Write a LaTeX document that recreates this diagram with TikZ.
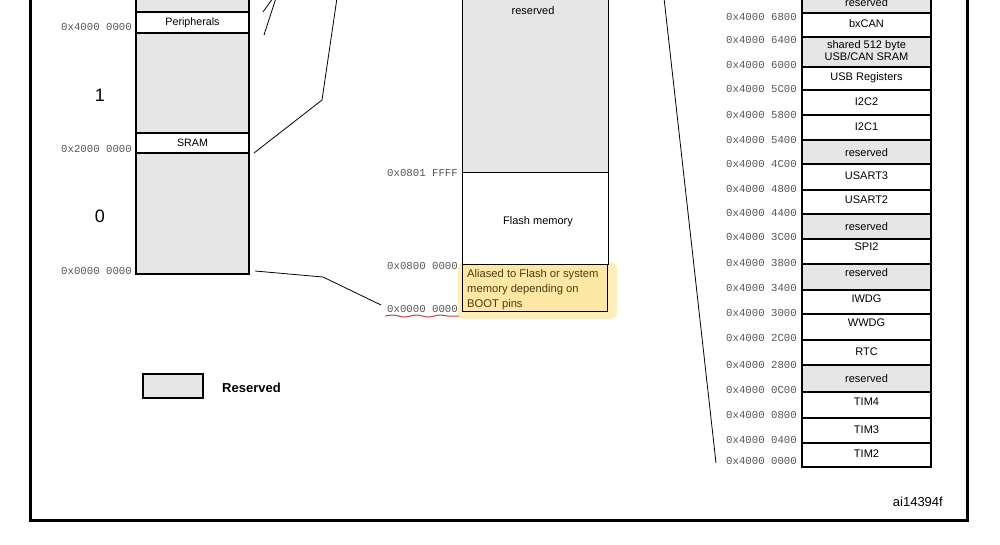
\documentclass[tikz,border=0pt]{standalone}
\usepackage{fontspec}
\setmainfont{Liberation Sans}
\setmonofont{Liberation Mono}
\usetikzlibrary{positioning, decorations.pathmorphing}
\usepackage{xcolor}
\definecolor{rsvgray}{HTML}{E6E6E6}
\definecolor{addrgray}{HTML}{555555}
\definecolor{hilite}{HTML}{FCE8A4}
\definecolor{hilitetext}{HTML}{4A3C14}
\definecolor{inkred}{HTML}{D43A3A}

\tikzset{
  memline/.style={line width=1.6pt},
  thinline/.style={line width=0.9pt},
  rsv/.style={fill=rsvgray},
  free/.style={fill=white},
  addr/.style={font=\ttfamily\fontsize{10.7}{12}\selectfont, text=addrgray, anchor=east, inner sep=0pt},
  blocklabel/.style={font=\fontsize{11}{12.6}\selectfont, align=center, inner sep=0pt},
  zoomline/.style={line width=0.8pt},
  wavy/.style={inkred, line width=1pt, decorate, decoration={snake, amplitude=1pt, segment length=24pt}},
}

\begin{document}
\begin{tikzpicture}[x=1pt, y=-1pt]
  \path[use as bounding box, clip] (0,0) rectangle (1000,544);

  % outer frame
  \draw[line width=3pt] (30,-10) -- (30,520) -- (967,520) -- (967,-10);

  % left column: whole address space
  \begin{scope}[memline]
    \draw[rsv] (136,-10) rectangle (249,12);
    \draw[free] (136,12) rectangle (249,33);
    \draw[rsv] (136,33) rectangle (249,133);
    \draw[free] (136,133) rectangle (249,153);
    \draw[rsv] (136,153) rectangle (249,274);
    \draw[line width=2.6pt] (135,274) -- (250,274);
  \end{scope}
  \node[blocklabel, font=\fontsize{10.7}{12}\selectfont] (periph) at (192.5,22.5) {Peripherals};
  \node[blocklabel, font=\fontsize{10.7}{12}\selectfont] (sram) at (192.5,143) {SRAM};
  \node[font=\fontsize{18}{20}\selectfont, inner sep=0pt] (blk1) at (100,95) {1};
  \node[font=\fontsize{18}{20}\selectfont, inner sep=0pt] (blk0) at (100,216) {0};
  \node[addr] (a4000) at (132,27) {0x4000 0000};
  \node[addr] (a2000) at (132,149) {0x2000 0000};
  \node[addr] (a0000) at (132,271) {0x0000 0000};

  % middle column: code area
  \fill[hilite!75, rounded corners=7pt] (458,262) rectangle (617,319);
  \fill[hilite] (462,264) rectangle (607,311);
  \draw[thinline, rsv] (462,-10) rectangle (608,172);
  \draw[thinline, free] (462,172) rectangle (608,264);
  \draw[thinline] (462,264) -- (462,311) -- (607,311) -- (607,264);
  \node[blocklabel] (rsvcode) at (533,11) {reserved};
  \node[blocklabel] (flash) at (538,222) {Flash memory};
  \node[anchor=north west, align=left, inner sep=0pt, text=hilitetext,
        font=\fontsize{11.2}{15}\selectfont] (alias) at (467,269)
        {Aliased to Flash or system\\memory depending on\\BOOT pins};
  \node[addr] (a0801) at (458,173) {0x0801 FFFF};
  \node[addr] (a0800) at (458,266) {0x0800 0000};
  \node[addr] (aboot) at (458,309) {0x0000 0000};
  \draw[wavy] (385,316) -- (459,316);

  % right column: peripheral registers
  \foreach \ya/\yb/\ty/\lab/\kind [count=\i] in {
      -10/13/2.5/reserved/rsv,
      13/37/24/bxCAN/free,
      37/67/50.5/{shared 512 byte\\USB/CAN SRAM}/rsv,
      67/90/78/USB Registers/free,
      90/115/102/I2C2/free,
      115/140/127/I2C1/free,
      140/164/153/reserved/rsv,
      164/190/176/USART3/free,
      190/214/200/USART2/free,
      214/239/227/reserved/rsv,
      239/264/247/SPI2/free,
      264/290/273/reserved/rsv,
      290/314/299/IWDG/free,
      314/340/323/WWDG/free,
      340/365/352/RTC/free,
      365/392/379/reserved/rsv,
      392/418/402/TIM4/free,
      418/443/430/TIM3/free,
      443/467/454/TIM2/free}
  {
    \draw[memline, \kind] (802,\ya) rectangle (931,\yb);
    \node[blocklabel] (per\i) at (866.5,\ty) {\lab};
  }
  \foreach \y/\a in {17/6800, 40/6400, 65/6000, 89/5C00, 115/5800, 140/5400,
      164/4C00, 189/4800, 213/4400, 237/3C00, 263/3800, 288/3400, 313/3000,
      338/2C00, 365/2800, 390/0C00, 415/0800, 440/0400, 461/0000}
    \node[addr] (p\a) at (797,\y) {0x4000 \a};

  % zoom lines
  \coordinate (zl1a) at (263,12);  \coordinate (zl1b) at (273,-2);
  \coordinate (zl2a) at (264,35);  \coordinate (zl2b) at (276,-2);
  \coordinate (zs0) at (254,153);  \coordinate (zs1) at (322,100);
  \coordinate (zs2) at (337,-2);
  \coordinate (zb0) at (255,271);  \coordinate (zb1) at (323,277);
  \coordinate (zb2) at (381,305);
  \coordinate (zr0) at (664,-2);   \coordinate (zr1) at (716,463);
  \draw[zoomline] (zl1a) -- (zl1b);
  \draw[zoomline] (zl2a) -- (zl2b);
  \draw[zoomline] (zs0) -- (zs1) -- (zs2);
  \draw[zoomline] (zb0) -- (zb1) -- (zb2);
  \draw[zoomline] (zr0) -- (zr1);

  % legend
  \draw[line width=1.8pt, rsv] (143,374) rectangle (203,398);
  \node[anchor=west, inner sep=0pt, font=\bfseries\fontsize{13}{15}\selectfont] (legend) at (222,388) {Reserved};

  \node[anchor=east, inner sep=0pt, font=\fontsize{13}{15}\selectfont] (figid) at (943,502) {ai14394f};
\end{tikzpicture}
\end{document}
